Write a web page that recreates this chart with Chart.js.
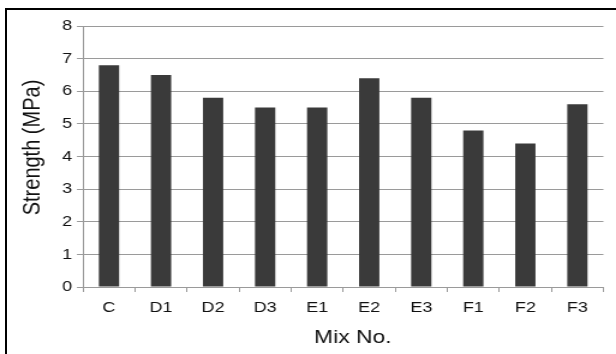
<!DOCTYPE html>
<html>
<head>
<meta charset="utf-8">
<script src="https://cdn.jsdelivr.net/npm/chart.js@4/dist/chart.umd.min.js"></script>
<style>
  html, body { margin: 0; padding: 0; background: #fff; overflow: hidden; }
  #wrap { position: relative; width: 616px; height: 354px; overflow: hidden; }
  #frame {
    position: absolute; left: 5px; top: 8px; width: 700px; height: 400px;
    border-left: 2px solid #000; border-top: 2px solid #000;
  }
  /* the drawing is laid out narrower and widened to the full frame width */
  #stretch {
    position: absolute; left: 0; top: 0; width: 513px; height: 354px;
    transform: scaleX(1.2008); transform-origin: 0 0;
  }
  canvas { display: block; }
</style>
</head>
<body>
<div id="wrap">
  <div id="frame"></div>
  <div id="stretch"><canvas id="chart" width="513" height="354"></canvas></div>
</div>
<script>
// Mix designs and their measured strength
const mixes = ["C", "D1", "D2", "D3", "E1", "E2", "E3", "F1", "F2", "F3"];
const strength = [6.8, 6.5, 5.8, 5.5, 5.5, 6.4, 5.8, 4.8, 4.4, 5.6];
const yTicks = [0, 1, 2, 3, 4, 5, 6, 7, 8];
const xTitle = 'Mix No.';
const yTitle = 'Strength (MPa)';

const FONT = "'Liberation Sans', Arial, Helvetica, sans-serif";
const GRID = '#9a9a9a';
const INK = '#111';

// Axis titles, placed relative to the plot area
const axisTitles = {
  id: 'axisTitles',
  afterDraw(chart) {
    const { ctx, chartArea: ca } = chart;
    ctx.save();
    ctx.fillStyle = INK;
    ctx.textAlign = 'center';
    ctx.font = `19px ${FONT}`;
    ctx.textBaseline = 'alphabetic';
    ctx.fillText(xTitle, (ca.left + ca.right) / 2 + 8, 343);
    ctx.font = `20px ${FONT}`;
    ctx.translate(27.5, (ca.top + ca.bottom) / 2 - 9);
    ctx.rotate(-Math.PI / 2);
    ctx.textBaseline = 'middle';
    ctx.fillText(yTitle, 0, 0);
    ctx.restore();
  }
};

new Chart(document.getElementById('chart'), {
  type: 'bar',
  data: {
    labels: mixes,
    datasets: [{
      label: yTitle,
      data: strength,
      backgroundColor: '#3a3a3a',
      borderWidth: 0,
      categoryPercentage: 1,
      barPercentage: 0.39
    }]
  },
  options: {
    responsive: false,
    animation: false,
    devicePixelRatio: 1,
    layout: { padding: { left: 0, top: 26, right: 10.5, bottom: 0 } },
    plugins: {
      legend: { display: false },
      tooltip: { enabled: false }
    },
    scales: {
      x: {
        grid: {
          offset: true,
          drawOnChartArea: false,
          drawTicks: true,
          tickLength: 5,
          color: GRID,
          lineWidth: 1
        },
        border: { color: GRID, width: 1 },
        ticks: {
          color: INK,
          font: { family: FONT, size: 15 },
          padding: 7,
          maxRotation: 0
        },
        afterFit: (scale) => { scale.height = 67; }
      },
      y: {
        min: 0,
        max: 8,
        afterBuildTicks: (scale) => { scale.ticks = yTicks.map(v => ({ value: v })); },
        grid: {
          color: GRID,
          lineWidth: 1,
          drawTicks: true,
          tickLength: 5
        },
        border: { color: GRID, width: 1 },
        ticks: {
          color: INK,
          font: { family: FONT, size: 15 },
          padding: 4
        },
        afterFit: (scale) => { scale.width = 69.1; }
      }
    }
  },
  plugins: [axisTitles]
});
</script>
</body>
</html>
